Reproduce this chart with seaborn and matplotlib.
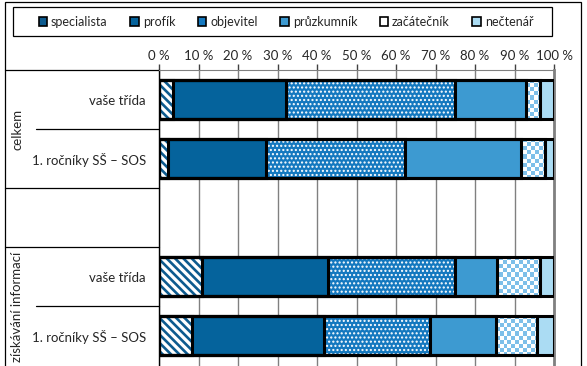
import numpy as np
import pandas as pd
import matplotlib
matplotlib.use("Agg")
import matplotlib.pyplot as plt
from matplotlib.patches import Patch, Rectangle
from matplotlib.colors import ListedColormap
import seaborn as sns

sns.set_style("white")
plt.rcParams["font.family"] = ["Lato", "DejaVu Sans"]

# --- Data (percent of pupils per reader type) ---
row_keys = ["celkem_trida", "celkem_rocniky", "info_trida", "info_rocniky"]
row_labels = ["vaše třída", "1. ročníky SŠ – SOS", "vaše třída", "1. ročníky SŠ – SOS"]
group_labels = ["celkem", "získávání informací"]
series = ["specialista", "profík", "objevitel", "průzkumník", "začátečník", "nečtenář"]

specialista = [3.6, 2.3, 10.8, 8.4]
profik = [28.6, 24.8, 31.9, 33.3]
objevitel = [42.7, 35.3, 32.2, 26.9]
pruzkumnik = [18.0, 29.2, 10.7, 16.7]
zacatecnik = [3.5, 6.0, 10.8, 10.4]
nectenar = [3.6, 2.4, 3.6, 4.3]

x_ticks = list(range(0, 101, 10))
x_tick_labels = [f"{t} %" for t in x_ticks]

df = pd.DataFrame({"key": row_keys, "specialista": specialista, "profík": profik,
                   "objevitel": objevitel, "průzkumník": pruzkumnik,
                   "začátečník": zacatecnik, "nečtenář": nectenar})
cum = df[series].cumsum(axis=1)
cum["key"] = df["key"]

# style per series: face colour, hatch, hatch colour
styles = {
    "specialista": ("white", "\\\\\\\\", "#0d5b8f"),
    "profík": ("#05639c", None, "#05639c"),
    "objevitel": ("#1478bf", "....", "white"),
    "průzkumník": ("#3d9ad1", None, "#3d9ad1"),
    "začátečník": ("white", None, "white"),
    "nečtenář": ("#abdcf3", None, "#abdcf3"),
}

order = [row_keys[0], row_keys[1], "", row_keys[2], row_keys[3]]
W, H = 587, 366

fig = plt.figure(figsize=(W / 100, H / 100), dpi=100)
ax = fig.add_axes([159 / W, 0.5 / H, 395 / W, 295.5 / H])

# stacked bars drawn as overlapping cumulative bars, widest first
checker_patches = []
for i in reversed(range(len(series))):
    name = series[i]
    face, hatch, hcol = styles[name]
    plt.rcParams["hatch.linewidth"] = 1.9 if name == "specialista" else 1.0
    n0 = len(ax.patches)
    sns.barplot(data=cum, x=name, y="key", order=order, orient="h", color=face,
                saturation=1, width=0.66, errorbar=None, ax=ax,
                linewidth=0, edgecolor=hcol, hatch=hatch, zorder=2 + (6 - i))
    new = ax.patches[n0:]
    for p in new:
        p.set_facecolor(face)
        p.set_edgecolor(hcol)
        p.set_linewidth(0)
    if name == "začátečník":
        checker_patches = list(new)
        checker_z = 2 + (6 - i) + 0.5

# checkerboard fill for "začátečník"
cmap = ListedColormap(["white", "#7dbfe9"])
sq_x, sq_y = 1.0, 0.068
for p in checker_patches:
    if not np.isfinite(p.get_width()) or p.get_width() <= 0:
        continue
    x0, y0 = p.get_x(), p.get_y()
    nx = int(p.get_width() / sq_x) + 1
    ny = int(abs(p.get_height()) / sq_y) + 1
    board = np.indices((ny, nx)).sum(axis=0) % 2
    im = ax.imshow(board, cmap=cmap, interpolation="nearest", aspect="auto",
                   extent=(x0, x0 + nx * sq_x, y0, y0 + ny * sq_y), zorder=checker_z)
    im.set_clip_path(p)

# black outlines
for name in series:
    n0 = len(ax.patches)
    sns.barplot(data=cum, x=name, y="key", order=order, orient="h", color="black",
                saturation=1, width=0.66, errorbar=None, ax=ax, zorder=20)
    for p in ax.patches[n0:]:
        p.set_facecolor("none")
        p.set_edgecolor("black")
        p.set_linewidth(2.2)
        p.set_hatch(None)

ax.set_xlim(0, 100)
ax.set_ylim(4.5, -0.5)

# axes styling
ax.xaxis.tick_top()
ax.set_xticks(x_ticks)
ax.set_xticklabels(x_tick_labels, fontsize=9.5)
ax.tick_params(axis="x", length=4, width=1, color="#404040", pad=2)
ax.set_yticks(range(5))
ax.set_yticklabels([row_labels[0], row_labels[1], "", row_labels[2], row_labels[3]], fontsize=9.5)
ax.tick_params(axis="y", length=0, pad=9.5)
ax.set_xlabel("")
ax.set_ylabel("")
ax.grid(axis="x", color="#808080", linewidth=1)
ax.grid(axis="y", visible=False)
ax.set_axisbelow(True)
for side in ["top", "right", "left", "bottom"]:
    ax.spines[side].set_visible(True)
ax.spines["top"].set_color("#808080")
ax.spines["right"].set_color("#808080")
ax.spines["right"].set_linewidth(2)
ax.spines["left"].set_color("black")
ax.spines["left"].set_linewidth(1)
ax.spines["bottom"].set_visible(False)

# table structure on the left
ytr = ax.get_yaxis_transform()
x_frame = (5 - 159) / 395
x_sub = (36 - 159) / 395
for yv in [-0.5, 1.5, 2.5]:
    ax.plot([x_frame, 0], [yv, yv], color="black", lw=0.9, transform=ytr, clip_on=False)
for yv in [0.5, 3.5]:
    ax.plot([x_sub, 0], [yv, yv], color="black", lw=0.9, transform=ytr, clip_on=False)
x_grp = (17 - 159) / 395
ax.text(x_grp, 0.5, group_labels[0], rotation=90, ha="center", va="center",
        fontsize=9.5, transform=ytr, clip_on=False)
ax.text(x_grp, 3.5, group_labels[1], rotation=90, ha="center", va="center",
        fontsize=9.5, transform=ytr, clip_on=False)

# outer frame and legend box
fig.add_artist(Rectangle((5 / W, -0.02), 576 / W, 1.02 - 2 / H, transform=fig.transFigure,
                         fill=False, edgecolor="black", linewidth=0.9))
fig.add_artist(Rectangle((13 / W, 1 - 36 / H), 539 / W, 29 / H, transform=fig.transFigure,
                         fill=False, edgecolor="black", linewidth=0.9))

plt.rcParams["hatch.linewidth"] = 1.0
handles = []
for name in series:
    face, hatch, hcol = styles[name]
    if name == "objevitel":
        hatch = None
    if name == "specialista":
        face, hatch = "#0d5b8f", None
    handles.append(Patch(facecolor=face, edgecolor="black", hatch=hatch, linewidth=1.2))
fig.legend(handles, series, loc="center", bbox_to_anchor=(286 / W, 1 - 21.5 / H),
           ncol=6, frameon=False, fontsize=9, handlelength=0.7, handleheight=0.7,
           handletextpad=0.3, columnspacing=1.8)

fig.savefig("out.png", dpi=100)
